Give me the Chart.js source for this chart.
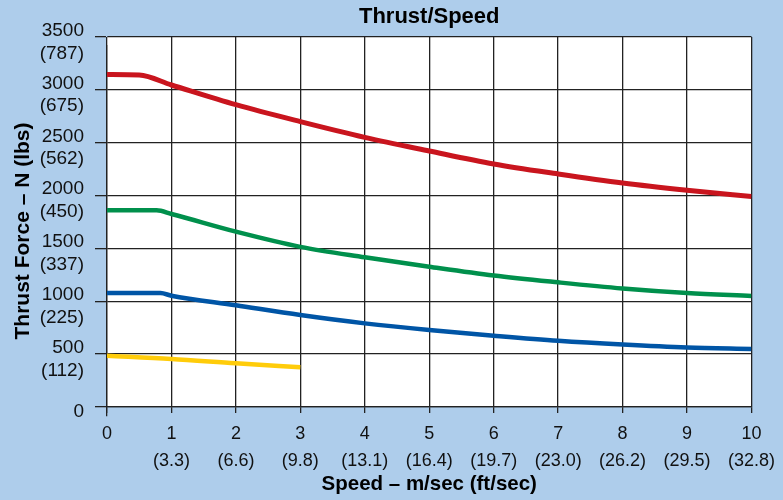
<!DOCTYPE html>
<html>
<head>
<meta charset="utf-8">
<script src="https://cdn.jsdelivr.net/npm/chart.js@4.4.1/dist/chart.umd.min.js"></script>
<style>
  html, body { margin: 0; padding: 0; background: #aecdeb; }
  canvas { display: block; }
</style>
</head>
<body>
<canvas id="grafico" width="783" height="500"></canvas>
<script>
// ================== DATOS ==================

// Etiquetas de los ejes (N y lbs, m/s y ft/s)
const fuerzaTicks = [0, 500, 1000, 1500, 2000, 2500, 3000, 3500];
const librasTicks = ['', '(112)', '(225)', '(337)', '(450)', '(562)', '(675)', '(787)'];
const velocidadTicks = [0, 1, 2, 3, 4, 5, 6, 7, 8, 9, 10];
const piesTicks = ['', '(3.3)', '(6.6)', '(9.8)', '(13.1)', '(16.4)', '(19.7)', '(23.0)', '(26.2)', '(29.5)', '(32.8)'];

// Curva roja
const rojoVel = [0, 0.5, 1, 2, 3, 4, 5, 6, 7, 8, 9, 10];
const rojoFuerza = [3145, 3140, 3046, 2860, 2700, 2551, 2422, 2299, 2204, 2118, 2050, 1992];

// Curva verde
const verdeVel = [0, 0.77, 1, 2, 3, 4, 5, 6, 7, 8, 9, 10];
const verdeFuerza = [1860, 1860, 1826, 1659, 1515, 1416, 1327, 1244, 1179, 1121, 1078, 1050];

// Curva azul
const azulVel = [0, 0.83, 1, 2, 3, 4, 5, 6, 7, 8, 9, 10];
const azulFuerza = [1078, 1078, 1053, 962, 870, 791, 728, 675, 627, 591, 563, 549];

// Curva amarilla
const amarilloVel = [0, 1, 2, 3];
const amarilloFuerza = [485, 455, 413, 375];

function puntos(xs, ys) {
    return xs.map(function (x, i) { return { x: x, y: ys[i] }; });
}

function serie(xs, ys, color, ancho) {
    return {
        data: puntos(xs, ys),
        borderColor: color,
        borderWidth: ancho,
        pointRadius: 0,
        fill: false,
        cubicInterpolationMode: 'monotone'
    };
}

// Fondo blanco solo dentro del area del grafico
const fondoBlanco = {
    id: 'fondoBlanco',
    beforeDraw: function (chart) {
        const a = chart.chartArea;
        const ctx = chart.ctx;
        ctx.save();
        ctx.fillStyle = '#ffffff';
        ctx.fillRect(a.left, a.top, a.right - a.left, a.bottom - a.top);
        ctx.restore();
    }
};

// Centra el titulo sobre el area del grafico y baja un poco el titulo del eje Y
const ajusteTitulos = {
    id: 'ajusteTitulos',
    afterLayout: function (chart) {
        const a = chart.chartArea;
        if (chart.titleBlock) {
            chart.titleBlock.left = a.left;
            chart.titleBlock.right = a.right;
        }
        const y = chart.scales.y;
        y.top += 9;
        y.bottom += 9;
    }
};

const fuente = "'Liberation Sans', Arial, Helvetica, sans-serif";

new Chart(document.getElementById('grafico'), {
    type: 'line',
    data: {
        datasets: [
            serie(rojoVel, rojoFuerza, '#c9151e', 5),
            serie(verdeVel, verdeFuerza, '#00904c', 4.5),
            serie(azulVel, azulFuerza, '#0055a6', 4.5),
            serie(amarilloVel, amarilloFuerza, '#ffcc0a', 4.5)
        ]
    },
    options: {
        responsive: false,
        animation: false,
        layout: { padding: { left: 0, right: 29, top: 0, bottom: 0 } },
        plugins: {
            legend: { display: false },
            tooltip: { enabled: false },
            title: {
                display: true,
                text: 'Thrust/Speed',
                color: '#000',
                font: { family: fuente, size: 22, weight: 'bold', lineHeight: 1.2 },
                padding: { top: 4, bottom: 6.6 }
            }
        },
        scales: {
            x: {
                type: 'linear',
                min: 0,
                max: 10,
                afterFit: function (s) { s.height = 93; },
                afterBuildTicks: function (s) {
                    s.ticks = velocidadTicks.map(function (v) { return { value: v }; });
                },
                ticks: {
                    color: '#111',
                    padding: 8,
                    maxRotation: 0,
                    autoSkip: false,
                    font: { family: fuente, size: 18, lineHeight: 1.5 },
                    callback: function (v) {
                        const i = velocidadTicks.indexOf(v);
                        return piesTicks[i] ? [String(v), piesTicks[i]] : String(v);
                    }
                },
                grid: { color: '#222', lineWidth: 1.3, tickLength: 6 },
                border: { color: '#222', width: 1.3 },
                title: {
                    display: true,
                    text: 'Speed – m/sec (ft/sec)',
                    color: '#000',
                    font: { family: fuente, size: 20.5, weight: 'bold', lineHeight: 1.2 },
                    padding: { top: 0, bottom: 3 }
                }
            },
            y: {
                min: 0,
                max: 3500,
                afterFit: function (s) { s.width = 107; },
                afterBuildTicks: function (s) {
                    s.ticks = fuerzaTicks.map(function (v) { return { value: v }; });
                },
                ticks: {
                    color: '#111',
                    padding: 11,
                    labelOffset: 5,
                    autoSkip: false,
                    font: { family: fuente, size: 19, lineHeight: 1.2 },
                    callback: function (v) {
                        const i = fuerzaTicks.indexOf(v);
                        return librasTicks[i] ? [String(v), librasTicks[i]] : String(v);
                    }
                },
                grid: { color: '#222', lineWidth: 1.3, tickLength: 12 },
                border: { color: '#222', width: 1.3 },
                title: {
                    display: true,
                    text: 'Thrust Force – N (lbs)',
                    color: '#000',
                    font: { family: fuente, size: 21, weight: 'bold', lineHeight: 1.2 },
                    padding: { top: 11, bottom: 0 }
                }
            }
        }
    },
    plugins: [fondoBlanco, ajusteTitulos]
});
</script>
</body>
</html>
